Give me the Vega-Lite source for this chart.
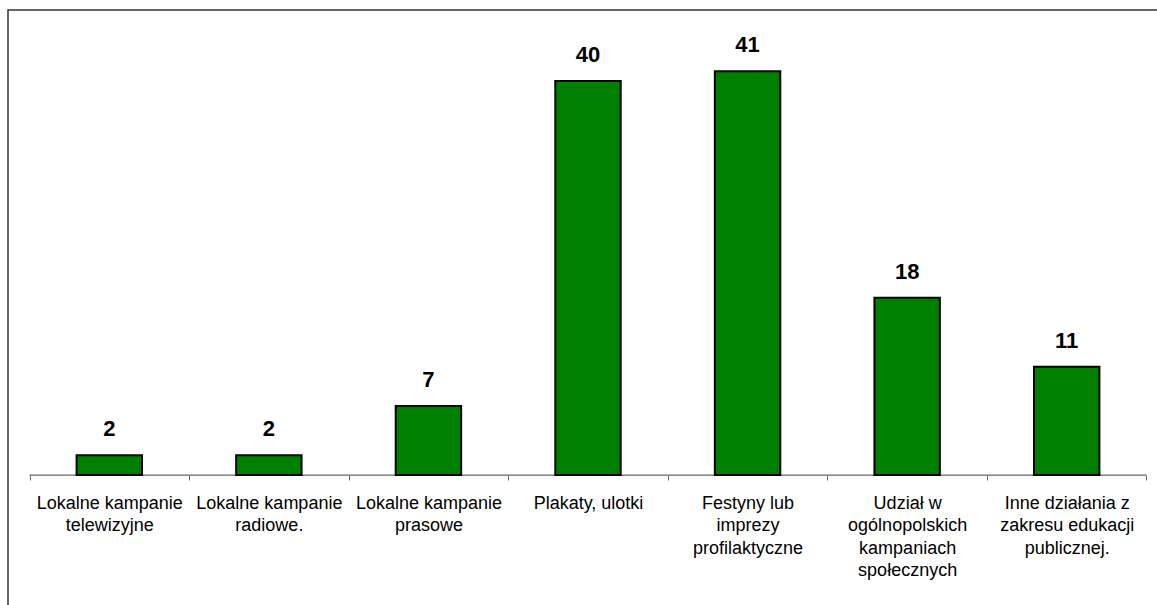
{
  "$schema": "https://vega.github.io/schema/vega-lite/v6.json",
  "width": 1160,
  "height": 605,
  "autosize": {"type": "none"},
  "padding": {"left": 8, "top": 10, "right": 0, "bottom": 0},
  "background": "white",
  "config": {
    "view": {"stroke": "#333333", "strokeWidth": 1.5},
    "font": "Liberation Sans"
  },
  "data": {
    "values": [
      {"kategoria": "Lokalne kampanie\ntelewizyjne", "wartosc": 2},
      {"kategoria": "Lokalne kampanie\nradiowe.", "wartosc": 2},
      {"kategoria": "Lokalne kampanie\nprasowe", "wartosc": 7},
      {"kategoria": "Plakaty, ulotki", "wartosc": 40},
      {"kategoria": "Festyny lub\nimprezy\nprofilaktyczne", "wartosc": 41},
      {"kategoria": "Udział w\nogólnopolskich\nkampaniach\nspołecznych", "wartosc": 18},
      {"kategoria": "Inne działania z\nzakresu edukacji\npublicznej.", "wartosc": 11}
    ]
  },
  "encoding": {
    "x": {
      "field": "kategoria",
      "type": "nominal",
      "sort": null,
      "scale": {"paddingInner": 0, "paddingOuter": 0.1348},
      "axis": {
        "title": null,
        "orient": "bottom",
        "offset": -140,
        "domain": false,
        "tickBand": "extent",
        "ticks": true,
        "tickSize": 5,
        "tickColor": "#666666",
        "tickWidth": 1,
        "labelAngle": 0,
        "labelAlign": "center",
        "labelBaseline": "top",
        "labelPadding": 14,
        "labelFontSize": 18,
        "labelFont": "Liberation Sans",
        "labelColor": "#000000",
        "labelLineHeight": 22.5,
        "labelLimit": 400,
        "labelExpr": "split(datum.label, '\\n')",
        "grid": false
      }
    },
    "y": {
      "field": "wartosc",
      "type": "quantitative",
      "scale": {"domain": [-14.21, 47.21], "nice": false, "zero": false},
      "axis": null
    }
  },
  "layer": [
    {
      "mark": {"type": "bar", "width": {"band": 1}, "fill": null, "fillOpacity": 0, "stroke": "#666666", "strokeWidth": 1.2},
      "encoding": {
        "y": {"datum": 0},
        "y2": {"datum": 0}
      }
    },
    {
      "mark": {"type": "bar", "width": {"band": 0.41}, "color": "#008000", "stroke": "#000000", "strokeWidth": 2},
      "encoding": {
        "y2": {"datum": 0}
      }
    },
    {
      "mark": {"type": "text", "dy": -19, "baseline": "alphabetic", "fontSize": 22, "fontWeight": "bold", "font": "Liberation Sans", "color": "#000000"},
      "encoding": {
        "text": {"field": "wartosc", "type": "quantitative"}
      }
    }
  ]
}
